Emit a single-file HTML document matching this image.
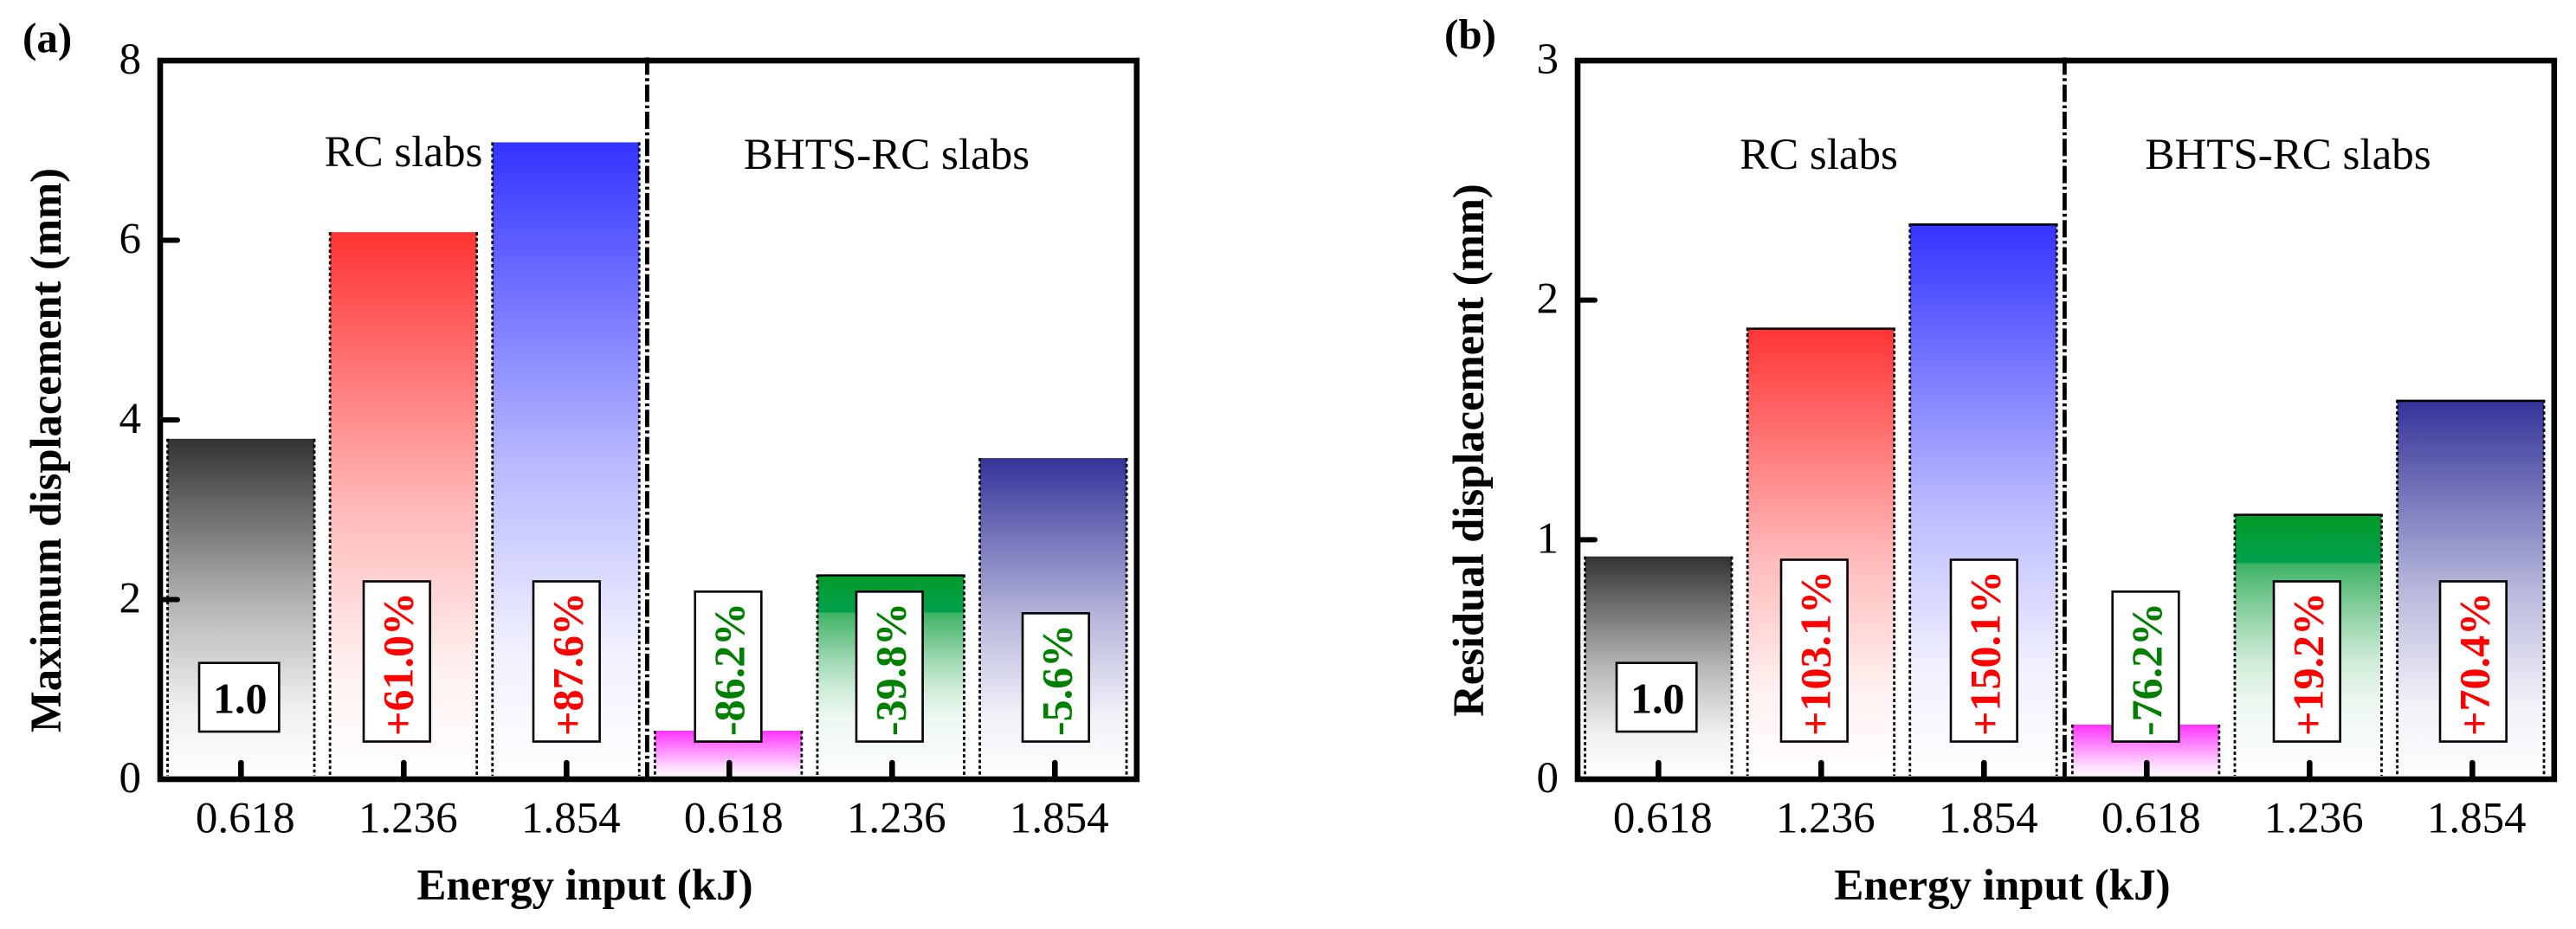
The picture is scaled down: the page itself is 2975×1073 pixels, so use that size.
<!DOCTYPE html>
<html lang="en">
<head>
<meta charset="utf-8">
<title>Maximum and residual displacement of RC and BHTS-RC slabs</title>
<style>
  html, body { margin: 0; padding: 0; background: #ffffff; }
  body { width: 2975px; height: 1073px; overflow: hidden; }
  svg { display: block; }
  text { font-family: "Liberation Serif", "Times New Roman", serif; fill: #000000; }
</style>
</head>
<body>
<svg id="figure" xmlns="http://www.w3.org/2000/svg" width="2975" height="1073" viewBox="0 0 2975 1073">
  <defs id="gradient-defs"></defs>
  <rect x="0" y="0" width="2975" height="1073" fill="#ffffff"/>
</svg>
<script>
const categories = ['0.618', '1.236', '1.854', '0.618', '1.236', '1.854'];
const groupNames = ['RC slabs', 'BHTS-RC slabs'];
const maxDisplacementValues = [3.79, 6.09, 7.09, 0.54, 2.28, 3.575];
const residualDisplacementValues = [0.93, 1.885, 2.32, 0.228, 1.108, 1.584];
const maxDisplacementChanges = ['1.0', '+61.0%', '+87.6%', '-86.2%', '-39.8%', '-5.6%'];
const residualDisplacementChanges = ['1.0', '+103.1%', '+150.1%', '-76.2%', '+19.2%', '+70.4%'];
const maxDisplacementTicks = [0, 2, 4, 6, 8];
const residualDisplacementTicks = [0, 1, 2, 3];

const SVG_NS = 'http://www.w3.org/2000/svg';
const svg = document.getElementById('figure');
const defs = document.getElementById('gradient-defs');

function mk(tag, attrs, parent) {
  const node = document.createElementNS(SVG_NS, tag);
  for (const key in attrs) node.setAttribute(key, attrs[key]);
  parent.appendChild(node);
  return node;
}

function addGradient(id, color, stops) {
  const grad = mk('linearGradient', { id: id, x1: 0, y1: 0, x2: 0, y2: 1 }, defs);
  stops.forEach(function (s) {
    mk('stop', { offset: s[0], 'stop-color': s[2] || color, 'stop-opacity': s[1] }, grad);
  });
}

const fadeStops = [[0, 1], [0.5, 0.35], [0.8, 0.07], [1, 0]];
const greenStops = [[0, 1, '#059a28'], [0.182, 1, '#00a04c'], [0.19, 0.75, '#009933'], [0.405, 0.4], [0.55, 0.2], [0.7, 0.07], [1, 0]];
addGradient('grad-0', '#333333', fadeStops);
addGradient('grad-1', '#ff3333', fadeStops);
addGradient('grad-2', '#3333ff', fadeStops);
addGradient('grad-3', '#ff33ff', [[0, 1], [0.5, 0.45], [0.8, 0.12], [1, 0]]);
addGradient('grad-4', '#009933', greenStops);
addGradient('grad-5', '#333399', fadeStops);

function drawPanel(panel) {
  const left = panel.left;
  const right = left + 1127.8;
  const top = 70;
  const bottom = 900;
  const yMax = panel.ticks[panel.ticks.length - 1];
  const yScale = function (v) { return bottom - (v / yMax) * (bottom - top); };
  const xScale = function (i) { return left + 93.3 + i * 188; };
  const barCenter = function (i) { return left + 93.3 + i * 187.6; };
  const barWidth = 169.5;
  const boxNudge = [-2.3, -8, 0, -1.3, -3, 1];

  const g = mk('g', {}, svg);
  
  

  panel.values.forEach(function (v, i) {
    const cx = barCenter(i);
    const yTop = yScale(v);
    const bar = mk('rect', { x: cx - barWidth / 2, y: yTop, width: barWidth, height: bottom - yTop, fill: 'url(#grad-' + i + ')' }, g);
    
    

    [cx - barWidth / 2, cx + barWidth / 2].forEach(function (ex) {
      const edge = mk('line', { x1: ex, x2: ex, y1: yTop, y2: bottom - 4, stroke: '#000000', 'stroke-width': 2.8, 'stroke-dasharray': '3.7 3' }, g);
      
      
    });

    if (panel.topEdges[i]) {
      const edgeTop = mk('line', { x1: cx - barWidth / 2, x2: cx + barWidth / 2, y1: yTop + 1.2, y2: yTop + 1.2, stroke: '#000000', 'stroke-width': 2.5 }, g);
      
      
    }
  });

  panel.changes.forEach(function (label, i) {
    const boxCx = xScale(i) + boxNudge[i];
    const color = label.charAt(0) === '+' ? '#ff0000' : (label.charAt(0) === '-' ? '#008000' : '#000000');
    if (i === 0) {
      const refBox = mk('rect', { x: boxCx - 46, y: bottom - 134.3, width: 92.3, height: 79.3, fill: '#ffffff', stroke: '#000000', 'stroke-width': 2.6 }, g);
      
      
      const refText = mk('text', { x: boxCx + 1.3, y: bottom - 76.7, 'text-anchor': 'middle', 'font-size': 50, 'font-weight': 'bold' }, g);
      refText.textContent = label;
      
      
      return;
    }
    const box = mk('rect', { fill: '#ffffff', stroke: '#000000', 'stroke-width': 2.6 }, g);
    
    
    const text = mk('text', { 'text-anchor': 'middle', 'font-size': 50, 'font-weight': 'bold' }, g);
    text.textContent = label;
    text.style.fill = color;
    
    
    const len = text.getComputedTextLength();
    const boxHeight = len + 19;
    const boxBottom = bottom - 43.5;
    const boxTop = boxBottom - boxHeight;
    box.setAttribute('x', boxCx - 38.3);
    box.setAttribute('y', boxTop);
    box.setAttribute('width', 76.6);
    box.setAttribute('height', boxHeight);
    const tx = boxCx + 18;
    const ty = (boxTop + boxBottom) / 2 + 3;
    text.setAttribute('x', tx);
    text.setAttribute('y', ty);
    text.setAttribute('transform', 'rotate(-90 ' + tx + ' ' + ty + ')');
  });

  const divider = mk('line', { x1: left + 562.4, x2: left + 562.4, y1: top - 3.6, y2: bottom - 3, stroke: '#000000', 'stroke-width': 4.8, 'stroke-dasharray': '20 4 3.3 4' }, g);
  
  

  categories.forEach(function (label, i) {
    const cx = xScale(i);
    const tick = mk('line', { x1: cx, x2: cx, y1: bottom, y2: 881, stroke: '#000000', 'stroke-width': 6.6, 'stroke-linecap': 'round' }, g);
    
    
    const tickText = mk('text', { x: cx + 5, y: 961.5, 'text-anchor': 'middle', 'font-size': 51 }, g);
    tickText.textContent = label;
    
    
  });

  panel.ticks.forEach(function (v) {
    const y = yScale(v);
    if (v !== 0 && v !== yMax) {
      const tick = mk('line', { x1: left, x2: left + 20, y1: y, y2: y, stroke: '#000000', 'stroke-width': 6, 'stroke-linecap': 'round' }, g);
      
      
    }
    const tickText = mk('text', { x: left - 22, y: y + 15, 'text-anchor': 'end', 'font-size': 51 }, g);
    tickText.textContent = String(v);
    
    
  });

  const frame = mk('rect', { x: left, y: top, width: right - left, height: bottom - top, fill: 'none', stroke: '#000000', 'stroke-width': 6.6, 'stroke-linejoin': 'miter' }, g);
  
  

  const groupA = mk('text', { x: left + panel.rcX, y: panel.rcY, 'text-anchor': 'middle', 'font-size': 51 }, g);
  groupA.textContent = groupNames[0];
  
  

  const groupB = mk('text', { x: left + panel.bhtsX, y: 195, 'text-anchor': 'middle', 'font-size': 51 }, g);
  groupB.textContent = groupNames[1];
  
  

  const xTitle = mk('text', { x: left + 490.5, y: 1039, 'text-anchor': 'middle', 'font-size': 51, 'font-weight': 'bold' }, g);
  xTitle.textContent = 'Energy input (kJ)';
  
  

  const yTitle = mk('text', { x: panel.yTitleX, y: 520, 'text-anchor': 'middle', 'font-size': 50.6, 'font-weight': 'bold', transform: 'rotate(-90 ' + panel.yTitleX + ' 520)' }, g);
  yTitle.textContent = panel.yTitle;
  
  

  const tag = mk('text', { x: panel.tagX, y: panel.tagY, 'font-size': 49, 'font-weight': 'bold' }, g);
  tag.textContent = panel.tag;
  
  
}

drawPanel({
  name: 'panel-a-maximum-displacement',
  short: 'a',
  left: 185,
  values: maxDisplacementValues,
  changes: maxDisplacementChanges,
  ticks: maxDisplacementTicks,
  topEdges: [0, 0, 0, 0, 1, 0],
  yTitle: 'Maximum displacement (mm)',
  yTitleX: 70,
  tag: '(a)',
  tagX: 26,
  tagY: 60,
  rcX: 281,
  rcY: 192,
  bhtsX: 839
});

drawPanel({
  name: 'panel-b-residual-displacement',
  short: 'b',
  left: 1822,
  values: residualDisplacementValues,
  changes: residualDisplacementChanges,
  ticks: residualDisplacementTicks,
  topEdges: [0, 1, 1, 0, 1, 1],
  yTitle: 'Residual displacement (mm)',
  yTitleX: 1713,
  tag: '(b)',
  tagX: 1668,
  tagY: 56,
  rcX: 278.5,
  rcY: 195,
  bhtsX: 820.5
});
</script>
</body>
</html>
